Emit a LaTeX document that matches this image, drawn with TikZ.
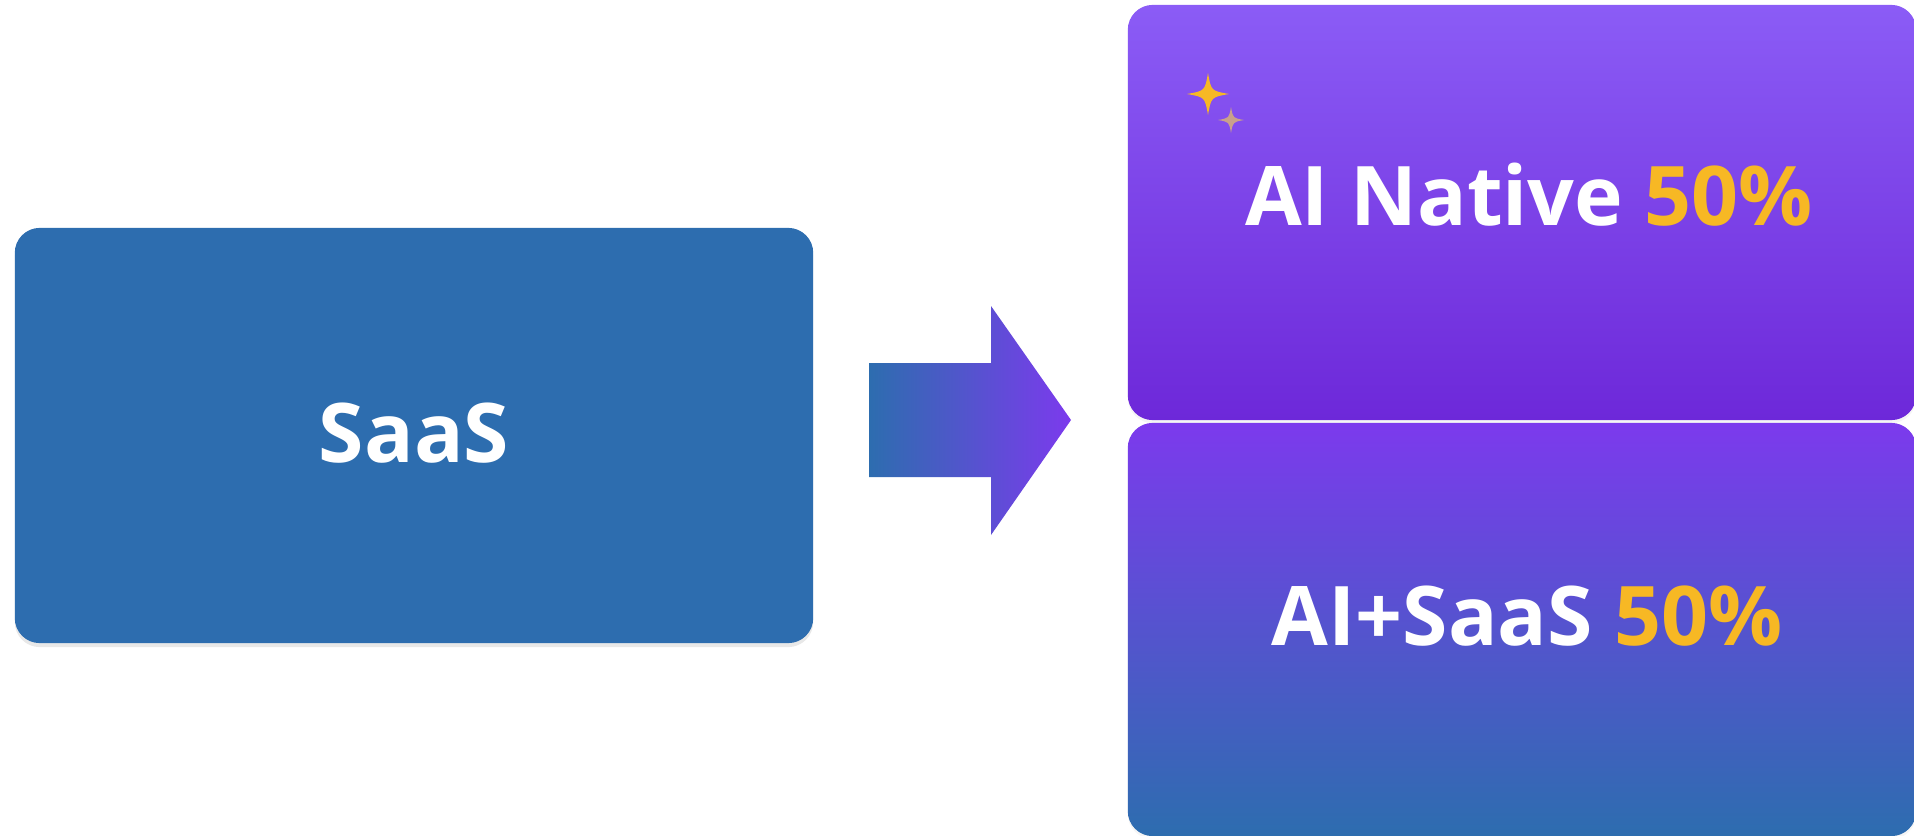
\documentclass[tikz,border=0pt]{standalone}
\usepackage{fontspec}
\setmainfont{Open Sans}[BoldFont={Open Sans Bold}]
\usetikzlibrary{shadows}
\definecolor{saasblue}{HTML}{2D6DAF}
\definecolor{violettop}{HTML}{8B5CF6}
\definecolor{violetbot}{HTML}{6D28D9}
\definecolor{purplemid}{HTML}{7C3AED}
\definecolor{indigomid}{HTML}{4F46E5}
\definecolor{amber}{HTML}{F7B824}
\definecolor{tan}{HTML}{C9A08C}

\tikzset{
  box/.style={shape=rectangle,rounded corners=0.25cm,inner sep=0pt},
  bigtext/.style={text=white,font=\bfseries\fontsize{23.4}{28}\selectfont}
}
\newcommand\sparkle[3]{\fill[#3,shift={#1},scale=#2] (0,-1) .. controls (0.15,-0.15) .. (1,0) .. controls (0.15,0.15) .. (0,1) .. controls (-0.15,0.15) .. (-1,0) .. controls (-0.15,-0.15) .. cycle;}

\begin{document}
\begin{tikzpicture}[x=0.01cm,y=-0.01cm]
        \useasboundingbox (0,0) rectangle (1914,836);
        \node[box,fill=saasblue,minimum width=7.98cm,minimum height=4.15cm,
              drop shadow={opacity=0.18,shadow xshift=0pt,shadow yshift=-0.04cm}](saas) at (414,435.5) {};
        \node[bigtext](saastxt) at (414,433) {SaaS};
        \node[box,top color=violettop,bottom color=violetbot,minimum width=7.88cm,minimum height=4.15cm,
              drop shadow={opacity=0.08,shadow xshift=0pt,shadow yshift=-0.03cm}](native) at (1522,212.5) {};
        \node[box,top color=purplemid,middle color=indigomid,bottom color=saasblue,minimum width=7.88cm,minimum height=4.13cm,
              drop shadow={opacity=0.08,shadow xshift=0pt,shadow yshift=-0.03cm}](plus) at (1522,629.5) {};
        \node[bigtext](nativetxt) at (1529,195) {AI Native \textcolor{amber}{50\%}};
        \node[bigtext](plustxt) at (1527,616) {AI+SaaS \textcolor{amber}{50\%}};
        % sparkles
        \sparkle{(1208,94)}{21}{amber}
        \sparkle{(1231,120)}{13}{tan}
        % block arrow
        \coordinate (a) at (869,420);
        \shade[left color=saasblue,right color=purplemid]
          (a) ++(0,-57) -- ++(122,0) -- ++(0,-57) -- (1071,420) -- ++(-80,115) -- ++(0,-58) -- ++(-122,0) -- cycle;
\end{tikzpicture}
\end{document}
